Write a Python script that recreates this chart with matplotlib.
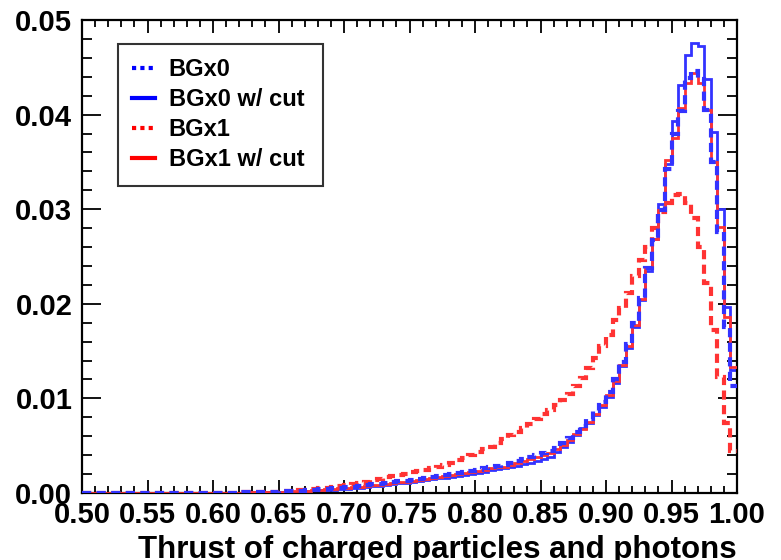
import numpy as np
import matplotlib
matplotlib.use("Agg")
import matplotlib.pyplot as plt
from matplotlib.ticker import MultipleLocator, FormatStrFormatter
from matplotlib.lines import Line2D

# 100 bins from 0.50 to 1.00
x_lo, x_hi, nbins = 0.5, 1.0, 100

bgx0 = [0] * 20 + [
    0.00002, 0.00003, 0.00004, 0.00005, 0.00006, 0.00007, 0.00008, 0.0001, 0.00012, 0.00014,
    0.00016, 0.00019, 0.00022, 0.00026, 0.0003, 0.00034, 0.00039, 0.00044, 0.0005, 0.00056,
    0.00062, 0.00068, 0.00075, 0.00082, 0.0009, 0.00098, 0.00106, 0.00114, 0.00122, 0.0013,
    0.0014, 0.0015, 0.0016, 0.0017, 0.0018, 0.0019, 0.002, 0.0021, 0.0022, 0.0023,
    0.0024, 0.0026, 0.0027, 0.0029, 0.003, 0.0032, 0.0034, 0.0036, 0.0038, 0.004,
    0.0042, 0.0044, 0.0048, 0.0053, 0.0058, 0.0064, 0.0071, 0.0078, 0.0087, 0.0096,
    0.0107, 0.0121, 0.0138, 0.0157, 0.0180, 0.0206, 0.0238, 0.0267, 0.0299, 0.0343,
    0.0380, 0.0404, 0.0439, 0.0446, 0.0438, 0.0405, 0.0350, 0.0276, 0.0175, 0.0113]

bgx0_cut = [0] * 20 + [
    0.00001, 0.00002, 0.00003, 0.00003, 0.00004, 0.00005, 0.00006, 0.00007, 0.00008, 0.0001,
    0.00011, 0.00013, 0.00015, 0.00017, 0.0002, 0.00023, 0.00027, 0.0003, 0.00035, 0.0004,
    0.00045, 0.0005, 0.00056, 0.00062, 0.0007, 0.00078, 0.00086, 0.00094, 0.00102, 0.0011,
    0.0012, 0.0013, 0.0014, 0.0015, 0.00155, 0.0016, 0.0017, 0.0018, 0.0019, 0.002,
    0.0021, 0.0022, 0.0024, 0.0025, 0.0026, 0.0028, 0.0029, 0.0031, 0.0032, 0.0034,
    0.0036, 0.0038, 0.0043, 0.0049, 0.0054, 0.0061, 0.0069, 0.0074, 0.0082, 0.0091,
    0.0102, 0.0116, 0.0134, 0.0153, 0.0176, 0.0204, 0.0235, 0.0268, 0.0305, 0.0348,
    0.0393, 0.0431, 0.0463, 0.0476, 0.0473, 0.0438, 0.0382, 0.0300, 0.0197, 0.0130]

bgx1 = [0] * 20 + [
    0.00002, 0.00003, 0.00004, 0.00005, 0.00006, 0.00007, 0.00008, 0.0001, 0.00011, 0.00013,
    0.00017, 0.0002, 0.00025, 0.0003, 0.00035, 0.00041, 0.00048, 0.00056, 0.00065, 0.00075,
    0.00085, 0.00095, 0.00107, 0.0012, 0.00135, 0.0015, 0.00165, 0.0018, 0.0019, 0.002,
    0.0022, 0.0023, 0.0024, 0.0026, 0.0028, 0.003, 0.0032, 0.0035, 0.0037, 0.004,
    0.0043, 0.0046, 0.0049, 0.0053, 0.0057, 0.0061, 0.0065, 0.0069, 0.0073, 0.0078,
    0.0083, 0.0088, 0.0093, 0.0098, 0.0105, 0.0113, 0.0122, 0.0132, 0.0143, 0.0155,
    0.0167, 0.0183, 0.0196, 0.0211, 0.0229, 0.0246, 0.0260, 0.0280, 0.0297, 0.0307,
    0.0315, 0.0316, 0.0307, 0.0291, 0.0260, 0.0222, 0.0172, 0.0123, 0.0074, 0.0044]

bgx1_cut = [0] * 20 + [
    0.00002, 0.00002, 0.00003, 0.00004, 0.00005, 0.00006, 0.00007, 0.00008, 0.0001, 0.00012,
    0.00014, 0.00016, 0.00019, 0.00022, 0.00025, 0.00029, 0.00033, 0.00038, 0.00043, 0.00049,
    0.00054, 0.0006, 0.00066, 0.00073, 0.0008, 0.00088, 0.00096, 0.00104, 0.00112, 0.0012,
    0.0013, 0.0014, 0.0015, 0.0016, 0.0017, 0.0018, 0.0019, 0.002, 0.0021, 0.0022,
    0.0023, 0.0024, 0.0026, 0.0027, 0.0028, 0.003, 0.0032, 0.0034, 0.0036, 0.0038,
    0.004, 0.0042, 0.0046, 0.0051, 0.0056, 0.0062, 0.0068, 0.0075, 0.0084, 0.0093,
    0.0104, 0.0118, 0.0135, 0.0155, 0.0178, 0.0205, 0.0238, 0.0268, 0.0299, 0.0352,
    0.0375, 0.0407, 0.0433, 0.0444, 0.0433, 0.0405, 0.0350, 0.0281, 0.0186, 0.0133]

labels = ["BGx0", "BGx0 w/ cut", "BGx1", "BGx1 w/ cut"]

blue = "#3333ff"
red = "#ff3333"

plt.rcParams['font.family'] = ['Liberation Sans', 'DejaVu Sans']
plt.rcParams['font.weight'] = 'bold'

fig = plt.figure(figsize=(7.81, 5.6), dpi=100)
ax = fig.add_axes([82 / 781, 1 - 493 / 560, (737 - 82) / 781, (493 - 20) / 560])

edges = np.linspace(x_lo, x_hi, nbins + 1)
dots = (0, (2.2, 1.3))

ax.stairs(bgx0_cut, edges, baseline=None, color=blue, lw=2, zorder=2)
ax.stairs(bgx1_cut, edges, baseline=None, color=red, lw=2, zorder=3)
ax.stairs(bgx1, edges, baseline=None, color=red, lw=3, linestyle=dots, zorder=4)
ax.stairs(bgx0, edges, baseline=None, color=blue, lw=3, linestyle=dots, zorder=5)

ax.set_xlim(0.5, 1.0)
ax.set_ylim(0, 0.05)

ax.xaxis.set_major_locator(MultipleLocator(0.05))
ax.xaxis.set_minor_locator(MultipleLocator(0.01))
ax.yaxis.set_major_locator(MultipleLocator(0.01))
ax.yaxis.set_minor_locator(MultipleLocator(0.002))
ax.xaxis.set_major_formatter(FormatStrFormatter('%.2f'))
ax.yaxis.set_major_formatter(FormatStrFormatter('%.2f'))

ax.tick_params(axis='both', which='both', direction='in', top=True, right=True,
               width=1.3, labelsize=21)
ax.tick_params(axis='x', which='major', length=9.5, pad=6)
ax.tick_params(axis='x', which='minor', length=5)
ax.tick_params(axis='y', which='major', length=14, pad=7)
ax.tick_params(axis='y', which='minor', length=7)
for s in ax.spines.values():
    s.set_linewidth(1.6)

fig.text(737 / 781, 1 - 550 / 560, "Thrust of charged particles and photons",
         ha='right', va='center', fontsize=22.5, fontweight='bold')

handles = [Line2D([], [], color='blue', lw=3, linestyle=(0, (1, 1))),
           Line2D([], [], color='blue', lw=3),
           Line2D([], [], color='red', lw=3, linestyle=(0, (1, 1))),
           Line2D([], [], color='red', lw=3)]
leg = ax.legend(handles, labels, loc='upper left', mode='expand',
                bbox_to_anchor=((118 - 82) / 655, 1 - (180 - 20) / 473, 205 / 655, 136 / 473),
                borderaxespad=0, fontsize=17, frameon=True, fancybox=False,
                edgecolor='black', handlelength=0.95, handletextpad=0.6,
                borderpad=0.6, labelspacing=0.3)
leg.get_frame().set_linewidth(1.5)

fig.savefig("out.png", dpi=100)
